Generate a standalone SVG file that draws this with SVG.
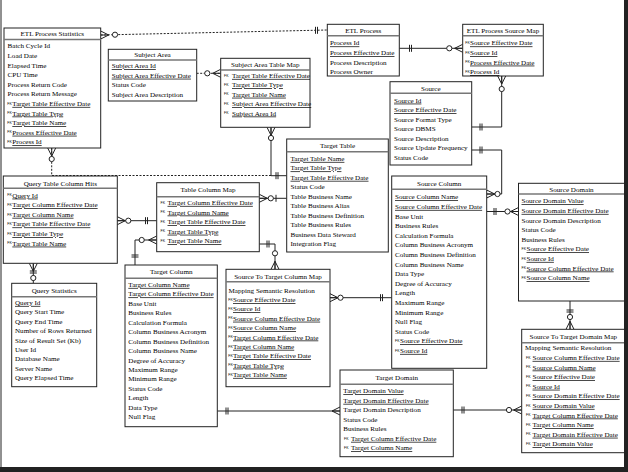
<svg xmlns="http://www.w3.org/2000/svg" xmlns:xlink="http://www.w3.org/1999/xlink" width="628" height="472" viewBox="0 0 628 472">
<style>
.box{fill:#fff;stroke:#222;stroke-width:1}
.hdr{stroke:#777;stroke-width:1.6}
.t{font-family:"Liberation Serif",serif;font-size:7.1px;fill:#000}
.ttl{text-anchor:middle}
.u{text-decoration:underline}
.fk{font-family:"Liberation Sans",sans-serif;font-size:3.5px;fill:#000}
.c{fill:none;stroke:#222;stroke-width:1}
.d{stroke-dasharray:2,1.5}
.o{fill:#fff;stroke:#222;stroke-width:1}
</style>
<defs>
<path id="crow" d="M0,-4L8,0M0,0L8,0M0,4L8,0" fill="none" stroke="#222" stroke-width="1"/>
<circle id="o" cx="0" cy="0" r="2.6" fill="#fff" stroke="#222" stroke-width="1"/>
<path id="b2" d="M0,-3.5V3.5M2,-3.5V3.5" fill="none" stroke="#222" stroke-width="1"/>
<path id="b1" d="M0,-3.5V3.5" fill="none" stroke="#222" stroke-width="1"/>
</defs>
<rect width="628" height="472" fill="#fff"/>

<g id="connectors">
<!-- A ETL Stats - ETL Process -->
<path class="c d" d="M100.7,35L327.3,30"/>
<use href="#crow" transform="translate(100.7,35)"/>
<use href="#o" transform="translate(115,34.7)"/>
<use href="#b2" transform="translate(315.5,30.3)"/>
<!-- B ETL Process - Source Map -->
<path class="c" d="M399.3,48.3H462.7"/>
<use href="#b2" transform="translate(409.5,48.3)"/>
<use href="#o" transform="translate(449.3,48.3)"/>
<use href="#crow" transform="translate(462.7,48.3) rotate(180)"/>
<!-- C Source - Source Map -->
<path class="c" d="M471.7,127H501.7V76"/>
<use href="#b2" transform="translate(480,127)"/>
<use href="#o" transform="translate(501.7,89)"/>
<use href="#crow" transform="translate(501.7,76) rotate(90)"/>
<!-- D Source - Source Column -->
<path class="c" d="M471.7,150H501.7V194H486.7"/>
<use href="#b2" transform="translate(480,150)"/>
<use href="#o" transform="translate(497.5,194)"/>
<use href="#crow" transform="translate(486.7,194)"/>
<!-- E Source Column - Source Domain -->
<path class="c" d="M486.7,211.5H518.5"/>
<use href="#b2" transform="translate(494,211.5)"/>
<use href="#o" transform="translate(507.5,211.5)"/>
<use href="#crow" transform="translate(518.5,211.5) rotate(180)"/>
<!-- F Source Domain - ST Domain Map -->
<path class="c" d="M570,301V329.3"/>
<use href="#b2" transform="translate(570,310) rotate(90)"/>
<use href="#o" transform="translate(570,317)"/>
<use href="#crow" transform="translate(570,329.3) rotate(-90)"/>
<!-- G Target Domain - ST Domain Map -->
<path class="c" d="M453.3,410H521.7"/>
<use href="#b2" transform="translate(462,410)"/>
<use href="#o" transform="translate(509,410)"/>
<use href="#crow" transform="translate(521.7,410) rotate(180)"/>
<!-- H Target Column - Target Domain -->
<path class="c" d="M217.3,411H340"/>
<use href="#b2" transform="translate(226,411)"/>
<use href="#crow" transform="translate(340,411) rotate(180)"/>
<!-- I ST Column Map - Source Column -->
<path class="c" d="M330,297.7H391.7"/>
<use href="#crow" transform="translate(330,297.7)"/>
<use href="#o" transform="translate(340.5,297.7)"/>
<use href="#b2" transform="translate(380.5,297.7)"/>
<!-- J Table Column Map - ST Column Map -->
<path class="c" d="M259.3,244H275V269.3"/>
<use href="#b2" transform="translate(267,244)"/>
<use href="#o" transform="translate(275,253.3)"/>
<use href="#crow" transform="translate(275,269.3) rotate(-90)"/>
<!-- K Target Column - Table Column Map -->
<path class="c" d="M135,265V240H156.7"/>
<use href="#b2" transform="translate(135,255) rotate(90)"/>
<use href="#o" transform="translate(141.7,240)"/>
<use href="#crow" transform="translate(156.7,240) rotate(180)"/>
<!-- L Table Column Map - Query Table Column Hits -->
<path class="c" d="M117.3,220.7H156.7"/>
<use href="#crow" transform="translate(117.3,220.7)"/>
<use href="#o" transform="translate(128.3,220.7)"/>
<use href="#b2" transform="translate(145.5,220.7)"/>
<!-- M Query Table Column Hits - Query Statistics -->
<path class="c" d="M33.3,263.3V283.3"/>
<use href="#crow" transform="translate(33.3,263.3) rotate(90)"/>
<use href="#b2" transform="translate(33.3,271) rotate(90)"/>
<use href="#o" transform="translate(33.3,278)"/>
<!-- N Target Table - Table Column Map -->
<path class="c" d="M259.3,198.3H286.7"/>
<use href="#crow" transform="translate(259.3,198.3)"/>
<use href="#o" transform="translate(270.8,198.3)"/>
<use href="#b1" transform="translate(276,198.3)"/>
<!-- O Target Table - Subject Area Table Map -->
<path class="c" d="M286.7,175.7H271V127.3"/>
<use href="#b2" transform="translate(276,175.7)"/>
<use href="#o" transform="translate(271,138)"/>
<use href="#crow" transform="translate(271,127.3) rotate(90)"/>
<!-- P Target Table - ETL Process Statistics -->
<path class="c d" d="M271,175.5H51.7V148"/>
<use href="#crow" transform="translate(51.7,148) rotate(90)"/>
<use href="#o" transform="translate(51.7,159)"/>
<!-- Q Subject Area - Subject Area Table Map -->
<path class="c d" d="M196.7,73.3H220.7"/>
<use href="#o" transform="translate(207.3,73.3)"/>
<use href="#crow" transform="translate(220.7,73.3) rotate(180)"/>
</g>

<g id="etl-process-statistics">
<rect class="box" x="4" y="28" width="96.7" height="120"/>
<line class="hdr" x1="4" y1="39.5" x2="100.7" y2="39.5"/>
<text class="t ttl" x="52.3" y="36.1">ETL Process Statistics</text>
<text class="t" x="7.5" y="48.3">Batch Cycle Id</text>
<text class="t" x="7.5" y="57.9">Load Date</text>
<text class="t" x="7.5" y="67.5">Elapsed Time</text>
<text class="t" x="7.5" y="77.1">CPU Time</text>
<text class="t" x="7.5" y="86.7">Process Return Code</text>
<text class="t" x="7.5" y="96.3">Process Return Message</text>
<text class="fk" x="7.3" y="104.6">FK</text><text class="t u" x="12.3" y="105.9">Target Table Effective Date</text>
<text class="fk" x="7.3" y="114.2">FK</text><text class="t u" x="12.3" y="115.5">Target Table Type</text>
<text class="fk" x="7.3" y="123.8">FK</text><text class="t u" x="12.3" y="125.1">Target Table Name</text>
<text class="fk" x="7.3" y="133.4">FK</text><text class="t u" x="12.3" y="134.7">Process Effective Date</text>
<text class="fk" x="7.3" y="143">FK</text><text class="t u" x="12.3" y="144.3">Process Id</text>
</g>

<g id="subject-area">
<rect class="box" x="108.3" y="49.3" width="88.4" height="51.7"/>
<line class="hdr" x1="108.3" y1="60" x2="196.7" y2="60"/>
<text class="t ttl" x="152.5" y="57.3">Subject Area</text>
<text class="t u" x="111.7" y="68.1">Subject Area Id</text>
<text class="t u" x="111.7" y="77.7">Subject Area Effective Date</text>
<text class="t" x="111.7" y="87.3">Status Code</text>
<text class="t" x="111.7" y="96.9">Subject Area Description</text>
</g>

<g id="subject-area-table-map">
<rect class="box" x="220.7" y="58.3" width="89.3" height="69"/>
<line class="hdr" x1="220.7" y1="70" x2="310" y2="70"/>
<text class="t ttl" x="265.3" y="66.9">Subject Area Table Map</text>
<text class="fk" x="224" y="76.6">FK</text><text class="t u" x="232" y="77.9">Target Table Effective Date</text>
<text class="fk" x="224" y="86">FK</text><text class="t u" x="232" y="87.3">Target Table Type</text>
<text class="fk" x="224" y="95.4">FK</text><text class="t u" x="232" y="96.7">Target Table Name</text>
<text class="fk" x="224" y="104.8">FK</text><text class="t u" x="232" y="106.1">Subject Area Effective Date</text>
<text class="fk" x="224" y="114.2">FK</text><text class="t u" x="232" y="115.5">Subject Area Id</text>
</g>

<g id="etl-process">
<rect class="box" x="327.3" y="24.3" width="72" height="51.7"/>
<line class="hdr" x1="327.3" y1="35.7" x2="399.3" y2="35.7"/>
<text class="t ttl" x="363.3" y="33.1">ETL Process</text>
<text class="t u" x="330" y="45.4">Process Id</text>
<text class="t u" x="330" y="55">Process Effective Date</text>
<text class="t" x="330" y="64.6">Process Description</text>
<text class="t" x="330" y="74.2">Process Owner</text>
</g>

<g id="etl-process-source-map">
<rect class="box" x="462.7" y="24.3" width="80.6" height="51.7"/>
<line class="hdr" x1="462.7" y1="35.7" x2="543.3" y2="35.7"/>
<text class="t ttl" x="503" y="33.1">ETL Process Source Map</text>
<text class="fk" x="465.3" y="44.1">FK</text><text class="t u" x="470" y="45.4">Source Effective Date</text>
<text class="fk" x="465.3" y="53.7">FK</text><text class="t u" x="470" y="55">Source Id</text>
<text class="fk" x="465.3" y="63.3">FK</text><text class="t u" x="470" y="64.6">Process Effective Date</text>
<text class="fk" x="465.3" y="72.9">FK</text><text class="t u" x="470" y="74.2">Process Id</text>
</g>

<g id="source">
<rect class="box" x="390" y="81.7" width="81.7" height="83.3"/>
<line class="hdr" x1="390" y1="93.3" x2="471.7" y2="93.3"/>
<text class="t ttl" x="430.8" y="90.9">Source</text>
<text class="t u" x="394" y="102.6">Source Id</text>
<text class="t u" x="394" y="112.1">Source Effective Date</text>
<text class="t" x="394" y="121.6">Source Format Type</text>
<text class="t" x="394" y="131.1">Source DBMS</text>
<text class="t" x="394" y="140.6">Source Description</text>
<text class="t" x="394" y="150.1">Source Update Frequency</text>
<text class="t" x="394" y="159.6">Status Code</text>
</g>

<g id="target-table">
<rect class="box" x="286.7" y="139" width="101.6" height="113"/>
<line class="hdr" x1="286.7" y1="151.7" x2="388.3" y2="151.7"/>
<text class="t ttl" x="337.5" y="148.3">Target Table</text>
<text class="t u" x="290.5" y="160.9">Target Table Name</text>
<text class="t u" x="290.5" y="170.35">Target Table Type</text>
<text class="t u" x="290.5" y="179.8">Target Table Effective Date</text>
<text class="t" x="290.5" y="189.25">Status Code</text>
<text class="t" x="290.5" y="198.7">Table Business Name</text>
<text class="t" x="290.5" y="208.15">Table Business Alias</text>
<text class="t" x="290.5" y="217.6">Table Business Definition</text>
<text class="t" x="290.5" y="227.05">Table Business Rules</text>
<text class="t" x="290.5" y="236.5">Business Data Steward</text>
<text class="t" x="290.5" y="245.95">Integration Flag</text>
</g>

<g id="query-table-column-hits">
<rect class="box" x="3.3" y="176" width="114" height="87.3"/>
<line class="hdr" x1="3.3" y1="188.3" x2="117.3" y2="188.3"/>
<text class="t ttl" x="60.3" y="185.7">Query Table Column Hits</text>
<text class="fk" x="7.3" y="196.3">FK</text><text class="t u" x="12.3" y="197.6">Query Id</text>
<text class="fk" x="7.3" y="205.9">FK</text><text class="t u" x="12.3" y="207.2">Target Column Effective Date</text>
<text class="fk" x="7.3" y="215.5">FK</text><text class="t u" x="12.3" y="216.8">Target Column Name</text>
<text class="fk" x="7.3" y="225.1">FK</text><text class="t u" x="12.3" y="226.4">Target Table Effective Date</text>
<text class="fk" x="7.3" y="234.7">FK</text><text class="t u" x="12.3" y="236">Target Table Type</text>
<text class="fk" x="7.3" y="244.3">FK</text><text class="t u" x="12.3" y="245.6">Target Table Name</text>
</g>

<g id="table-column-map">
<rect class="box" x="156.7" y="182.7" width="102.6" height="69"/>
<line class="hdr" x1="156.7" y1="196.7" x2="259.3" y2="196.7"/>
<text class="t ttl" x="208" y="192.4">Table Column Map</text>
<text class="fk" x="160.5" y="203.6">FK</text><text class="t u" x="167.5" y="204.9">Target Column Effective Date</text>
<text class="fk" x="160.5" y="213.2">FK</text><text class="t u" x="167.5" y="214.5">Target Column Name</text>
<text class="fk" x="160.5" y="222.8">FK</text><text class="t u" x="167.5" y="224.1">Target Table Effective Date</text>
<text class="fk" x="160.5" y="232.4">FK</text><text class="t u" x="167.5" y="233.7">Target Table Type</text>
<text class="fk" x="160.5" y="242">FK</text><text class="t u" x="167.5" y="243.3">Target Table Name</text>
</g>

<g id="query-statistics">
<rect class="box" x="11.7" y="283.3" width="85" height="103.4"/>
<line class="hdr" x1="11.7" y1="296.7" x2="96.7" y2="296.7"/>
<text class="t ttl" x="54.2" y="293.3">Query Statistics</text>
<text class="t u" x="15" y="304.9">Query Id</text>
<text class="t" x="15" y="314.3">Query Start Time</text>
<text class="t" x="15" y="323.7">Query End Time</text>
<text class="t" x="15" y="333.1">Number of Rows Returned</text>
<text class="t" x="15" y="342.5">Size of Result Set (Kb)</text>
<text class="t" x="15" y="351.9">User Id</text>
<text class="t" x="15" y="361.3">Database Name</text>
<text class="t" x="15" y="370.7">Server Name</text>
<text class="t" x="15" y="380.1">Query Elapsed Time</text>
</g>

<g id="target-column">
<rect class="box" x="125" y="265" width="92.3" height="161.7"/>
<line class="hdr" x1="125" y1="278.3" x2="217.3" y2="278.3"/>
<text class="t ttl" x="171.2" y="274.3">Target Column</text>
<text class="t u" x="128.3" y="286.9">Target Column Name</text>
<text class="t u" x="128.3" y="296.35">Target Column Effective Date</text>
<text class="t" x="128.3" y="305.8">Base Unit</text>
<text class="t" x="128.3" y="315.25">Business Rules</text>
<text class="t" x="128.3" y="324.7">Calculation Formula</text>
<text class="t" x="128.3" y="334.15">Column Business Acronym</text>
<text class="t" x="128.3" y="343.6">Column Business Definition</text>
<text class="t" x="128.3" y="353.05">Column Business Name</text>
<text class="t" x="128.3" y="362.5">Degree of Accuracy</text>
<text class="t" x="128.3" y="371.95">Maximum Range</text>
<text class="t" x="128.3" y="381.4">Minimum Range</text>
<text class="t" x="128.3" y="390.85">Status Code</text>
<text class="t" x="128.3" y="400.3">Length</text>
<text class="t" x="128.3" y="409.75">Data Type</text>
<text class="t" x="128.3" y="419.2">Null Flag</text>
</g>

<g id="source-to-target-column-map">
<rect class="box" x="226" y="269.3" width="104" height="117.4"/>
<line class="hdr" x1="226" y1="281.7" x2="330" y2="281.7"/>
<text class="t ttl" x="278" y="278.6">Source To Target Column Map</text>
<text class="t" x="228.5" y="292.6">Mapping Semantic Resolution</text>
<text class="fk" x="228.3" y="300.7">FK</text><text class="t u" x="233" y="302">Source Effective Date</text>
<text class="fk" x="228.3" y="310">FK</text><text class="t u" x="233" y="311.3">Source Id</text>
<text class="fk" x="228.3" y="319.4">FK</text><text class="t u" x="233" y="320.7">Source Column Effective Date</text>
<text class="fk" x="228.3" y="328.8">FK</text><text class="t u" x="233" y="330.1">Source Column Name</text>
<text class="fk" x="228.3" y="338.2">FK</text><text class="t u" x="233" y="339.5">Target Column Effective Date</text>
<text class="fk" x="228.3" y="347.5">FK</text><text class="t u" x="233" y="348.8">Target Column Name</text>
<text class="fk" x="228.3" y="356.9">FK</text><text class="t u" x="233" y="358.2">Target Table Effective Date</text>
<text class="fk" x="228.3" y="366.3">FK</text><text class="t u" x="233" y="367.6">Target Table Type</text>
<text class="fk" x="228.3" y="375.6">FK</text><text class="t u" x="233" y="376.9">Target Table Name</text>
</g>

<g id="source-column">
<rect class="box" x="391.7" y="176" width="95" height="192.3"/>
<line class="hdr" x1="391.7" y1="189.3" x2="486.7" y2="189.3"/>
<text class="t ttl" x="439.2" y="186.1">Source Column</text>
<text class="t u" x="395" y="199.3">Source Column Name</text>
<text class="t u" x="395" y="208.9">Source Column Effective Date</text>
<text class="t" x="395" y="218.5">Base Unit</text>
<text class="t" x="395" y="228.1">Business Rules</text>
<text class="t" x="395" y="237.7">Calculation Formula</text>
<text class="t" x="395" y="247.3">Column Business Acronym</text>
<text class="t" x="395" y="256.9">Column Business Definition</text>
<text class="t" x="395" y="266.5">Column Business Name</text>
<text class="t" x="395" y="276.1">Data Type</text>
<text class="t" x="395" y="285.7">Degree of Accuracy</text>
<text class="t" x="395" y="295.3">Length</text>
<text class="t" x="395" y="304.9">Maximum Range</text>
<text class="t" x="395" y="314.5">Minimum Range</text>
<text class="t" x="395" y="324.1">Null Flag</text>
<text class="t" x="395" y="333.7">Status Code</text>
<text class="fk" x="395" y="342">FK</text><text class="t u" x="400" y="343.3">Source Effective Date</text>
<text class="fk" x="395" y="351.6">FK</text><text class="t u" x="400" y="352.9">Source Id</text>
</g>

<g id="source-domain">
<rect class="box" x="518.5" y="183.3" width="106" height="117.7"/>
<line class="hdr" x1="518.5" y1="194" x2="624.5" y2="194"/>
<text class="t ttl" x="571.5" y="191.6">Source Domain</text>
<text class="t u" x="521.5" y="203.3">Source Domain Value</text>
<text class="t u" x="521.5" y="212.9">Source Domain Effective Date</text>
<text class="t" x="521.5" y="222.5">Source Domain Description</text>
<text class="t" x="521.5" y="232.1">Status Code</text>
<text class="t" x="521.5" y="241.7">Business Rules</text>
<text class="fk" x="521.5" y="250">FK</text><text class="t u" x="526.5" y="251.3">Source Effective Date</text>
<text class="fk" x="521.5" y="259.6">FK</text><text class="t u" x="526.5" y="260.9">Source Id</text>
<text class="fk" x="521.5" y="269.2">FK</text><text class="t u" x="526.5" y="270.5">Source Column Effective Date</text>
<text class="fk" x="521.5" y="278.8">FK</text><text class="t u" x="526.5" y="280.1">Source Column Name</text>
</g>

<g id="source-to-target-domain-map">
<rect class="box" x="521.7" y="329.3" width="103.3" height="123.4"/>
<line class="hdr" x1="521.7" y1="342.7" x2="625" y2="342.7"/>
<text class="t ttl" x="573.3" y="339.3">Source To Target Domain Map</text>
<text class="t" x="525" y="350.3">Mapping Semantic Resolution</text>
<text class="fk" x="526" y="358.6">FK</text><text class="t u" x="532.5" y="359.9">Source Column Effective Date</text>
<text class="fk" x="526" y="368.2">FK</text><text class="t u" x="532.5" y="369.5">Source Column Name</text>
<text class="fk" x="526" y="377.8">FK</text><text class="t u" x="532.5" y="379.1">Source Effective Date</text>
<text class="fk" x="526" y="387.4">FK</text><text class="t u" x="532.5" y="388.7">Source Id</text>
<text class="fk" x="526" y="397">FK</text><text class="t u" x="532.5" y="398.3">Source Domain Effective Date</text>
<text class="fk" x="526" y="406.6">FK</text><text class="t u" x="532.5" y="407.9">Source Domain Value</text>
<text class="fk" x="526" y="416.2">FK</text><text class="t u" x="532.5" y="417.5">Target Column Effective Date</text>
<text class="fk" x="526" y="425.8">FK</text><text class="t u" x="532.5" y="427.1">Target Column Name</text>
<text class="fk" x="526" y="435.4">FK</text><text class="t u" x="532.5" y="436.7">Target Domain Effective Date</text>
<text class="fk" x="526" y="445">FK</text><text class="t u" x="532.5" y="446.3">Target Domain Value</text>
</g>

<g id="target-domain">
<rect class="box" x="340" y="370" width="113.3" height="86.7"/>
<line class="hdr" x1="340" y1="384.3" x2="453.3" y2="384.3"/>
<text class="t ttl" x="396.7" y="380.3">Target Domain</text>
<text class="t u" x="343.3" y="393.3">Target Domain Value</text>
<text class="t u" x="343.3" y="402.8">Target Domain Effective Date</text>
<text class="t" x="343.3" y="412.3">Target Domain Description</text>
<text class="t" x="343.3" y="421.8">Status Code</text>
<text class="t" x="343.3" y="431.3">Business Rules</text>
<text class="fk" x="344" y="439.5">FK</text><text class="t u" x="351" y="440.8">Target Column Effective Date</text>
<text class="fk" x="344" y="449">FK</text><text class="t u" x="351" y="450.3">Target Column Name</text>
</g>

<g id="frame">
<line x1="1" y1="0" x2="1" y2="467" stroke="#222" stroke-width="1"/>
<rect x="624" y="0" width="4" height="472" fill="#222"/>
<rect x="0" y="467" width="628" height="5" fill="#222"/>
</g>
</svg>
